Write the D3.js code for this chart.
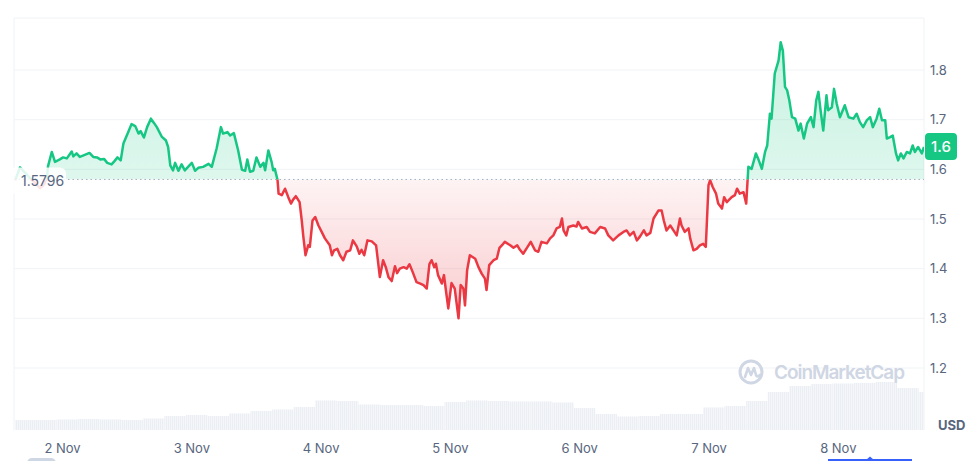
<!DOCTYPE html>
<html>
<head>
<meta charset="utf-8">
<script src="https://cdn.jsdelivr.net/npm/d3@7"></script>
<style>
  body { margin: 0; background: #fff; }
  svg { display: block; font-family: Inter, "Noto Sans", sans-serif; }
  .axis-label { fill: #58667e; font-size: 13px; }
</style>
</head>
<body>
<div id="chart"></div>
<script>
var width = 977,
    height = 461;

// price series: hours since 2 Nov 00:00, price in USD
var hours = [-8.7, -7.8, -6.9, -5.9, -5.0, -4.1, -3.3, -2.8, -2.6, -1.9, -1.3, -0.4, 0.2, 0.9, 1.8, 2.1, 2.7, 3.3, 4.0, 5.1, 5.8, 6.5, 7.1, 7.8, 8.4, 9.2, 9.7, 10.3, 10.9, 11.4, 12.3, 12.9, 13.6, 14.2, 14.6, 15.2, 15.8, 16.5, 17.1, 17.6, 18.5, 19.3, 19.7, 20.1, 20.6, 21.0, 21.6, 22.2, 22.8, 23.4, 24.1, 24.7, 25.3, 26.2, 27.2, 27.8, 28.7, 29.5, 29.9, 30.7, 31.2, 31.9, 32.7, 33.4, 34.0, 34.4, 34.9, 35.5, 36.1, 36.8, 37.4, 37.7, 38.3, 38.9, 39.2, 39.5, 40.0, 40.2, 40.8, 41.4, 42.0, 42.5, 42.9, 43.4, 44.1, 44.5, 44.8, 45.2, 45.7, 46.0, 46.5, 47.0, 47.6, 48.2, 48.8, 49.7, 50.1, 50.5, 51.1, 51.6, 52.2, 52.8, 53.5, 54.0, 54.7, 55.2, 55.6, 56.1, 56.7, 57.5, 58.3, 59.0, 59.6, 60.1, 60.6, 61.2, 61.8, 62.2, 62.7, 63.4, 64.0, 64.5, 65.1, 65.8, 66.5, 67.1, 67.7, 68.2, 68.6, 69.1, 69.4, 69.8, 70.5, 70.9, 71.3, 71.7, 72.3, 72.9, 73.6, 74.0, 74.5, 74.8, 75.2, 75.7, 76.7, 77.3, 77.9, 78.5, 78.8, 79.3, 80.1, 80.7, 81.2, 81.9, 82.2, 83.2, 83.8, 84.5, 85.0, 85.6, 86.3, 87.0, 87.8, 88.4, 89.0, 90.0, 90.6, 91.2, 91.8, 92.4, 92.8, 93.1, 93.6, 94.0, 94.9, 95.5, 95.8, 96.5, 97.4, 98.0, 98.9, 99.9, 100.8, 101.4, 102.3, 103.3, 104.2, 104.8, 105.4, 106.1, 106.7, 107.3, 108.0, 108.5, 109.2, 109.8, 110.7, 111.3, 111.7, 112.2, 112.9, 113.5, 114.1, 114.7, 115.0, 115.6, 116.3, 116.6, 117.2, 117.8, 118.4, 119.0, 119.5, 120.0, 120.3, 120.8, 121.4, 121.8, 122.5, 122.9, 123.4, 124.3, 124.9, 125.3, 125.8, 126.5, 127.0, 127.4, 128.0, 128.8, 129.2, 129.9, 130.5, 130.9, 131.4, 131.7, 132.3, 133.0, 133.4, 133.8, 134.2, 134.6, 135.0, 135.5, 136.1, 136.7, 137.1, 137.7, 138.3, 139.0, 139.5, 140.0, 140.4, 140.8, 141.3, 141.9, 142.2, 142.9, 143.3, 143.8, 144.4, 145.3, 146.0, 146.9, 147.5, 148.1, 148.7, 149.4, 150.0, 150.5, 151.2, 151.7, 152.2, 152.8, 153.1, 153.7, 154.2, 154.8, 155.2, 155.7, 156.2, 156.8, 157.4, 157.9, 158.3, 158.9, 159.6, 160.0];
var prices = [1.578, 1.604, 1.594, 1.582, 1.572, 1.562, 1.570, 1.584, 1.606, 1.635, 1.615, 1.620, 1.624, 1.622, 1.636, 1.626, 1.632, 1.625, 1.628, 1.633, 1.625, 1.624, 1.620, 1.621, 1.613, 1.610, 1.616, 1.624, 1.618, 1.652, 1.675, 1.691, 1.687, 1.672, 1.677, 1.664, 1.685, 1.702, 1.693, 1.685, 1.666, 1.658, 1.645, 1.608, 1.598, 1.613, 1.597, 1.610, 1.598, 1.605, 1.613, 1.597, 1.603, 1.605, 1.611, 1.605, 1.642, 1.685, 1.672, 1.675, 1.668, 1.673, 1.638, 1.599, 1.597, 1.620, 1.595, 1.597, 1.624, 1.605, 1.613, 1.598, 1.638, 1.615, 1.598, 1.601, 1.579, 1.551, 1.548, 1.561, 1.544, 1.531, 1.539, 1.546, 1.534, 1.497, 1.464, 1.427, 1.447, 1.444, 1.497, 1.504, 1.487, 1.474, 1.461, 1.447, 1.427, 1.437, 1.440, 1.427, 1.417, 1.434, 1.437, 1.457, 1.445, 1.430, 1.438, 1.427, 1.457, 1.455, 1.447, 1.383, 1.417, 1.403, 1.383, 1.375, 1.405, 1.391, 1.400, 1.403, 1.400, 1.409, 1.393, 1.373, 1.370, 1.367, 1.360, 1.409, 1.417, 1.403, 1.410, 1.387, 1.370, 1.387, 1.353, 1.320, 1.371, 1.360, 1.300, 1.367, 1.360, 1.326, 1.397, 1.427, 1.420, 1.403, 1.390, 1.380, 1.357, 1.407, 1.417, 1.420, 1.442, 1.450, 1.454, 1.447, 1.442, 1.447, 1.438, 1.430, 1.442, 1.454, 1.437, 1.434, 1.454, 1.451, 1.461, 1.467, 1.481, 1.484, 1.501, 1.477, 1.467, 1.484, 1.487, 1.485, 1.494, 1.481, 1.484, 1.474, 1.471, 1.484, 1.481, 1.467, 1.457, 1.467, 1.474, 1.477, 1.467, 1.474, 1.457, 1.465, 1.477, 1.467, 1.472, 1.501, 1.517, 1.517, 1.497, 1.477, 1.487, 1.477, 1.467, 1.501, 1.487, 1.474, 1.481, 1.461, 1.437, 1.440, 1.447, 1.450, 1.444, 1.568, 1.578, 1.564, 1.551, 1.531, 1.521, 1.544, 1.534, 1.544, 1.548, 1.561, 1.551, 1.554, 1.531, 1.605, 1.601, 1.632, 1.622, 1.601, 1.635, 1.648, 1.712, 1.702, 1.793, 1.819, 1.856, 1.839, 1.766, 1.759, 1.739, 1.705, 1.702, 1.678, 1.692, 1.662, 1.692, 1.705, 1.685, 1.739, 1.756, 1.719, 1.678, 1.749, 1.719, 1.725, 1.762, 1.732, 1.705, 1.729, 1.705, 1.702, 1.712, 1.695, 1.685, 1.699, 1.705, 1.685, 1.702, 1.722, 1.699, 1.699, 1.662, 1.665, 1.668, 1.632, 1.618, 1.632, 1.622, 1.635, 1.632, 1.648, 1.635, 1.645, 1.632, 1.645];

// volume, one bar per 4 hours (millions USD)
var volHours = [-9, -5, -1, 3, 7, 11, 15, 19, 23, 27, 31, 35, 39, 43, 47, 51, 55, 59, 63, 67, 71, 75, 79, 83, 87, 91, 95, 99, 103, 107, 111, 115, 119, 123, 127, 131, 135, 139, 143, 147, 151, 155, 159];
var volumes = [20, 20, 21, 22, 21, 20, 23, 28, 30, 28, 33, 38, 41, 46, 59, 58, 51, 50, 50, 48, 56, 59, 58, 57, 57, 55, 44, 32, 27, 28, 32, 32, 45, 48, 58, 76, 88, 92, 93, 94, 96, 84, 76];

var basePrice = 1.5796;
var yTicks = [1.2, 1.3, 1.4, 1.5, 1.6, 1.7, 1.8];
var dayTicks = [2, 3, 4, 5, 6, 7, 8];

var plot = {left: 14, right: 924, top: 18, bottom: 430};

var t0 = new Date(2023, 10, 2).getTime();
function toDate(h) { return new Date(t0 + h * 3600e3); }

var data = hours.map(function(h, i) { return {date: toDate(h), price: prices[i]}; });

var xScale = d3.scaleTime()
  .domain([toDate(0), toDate(160)])
  .range([62, 924]);
var yScale = d3.scaleLinear()
  .domain([1.2, 1.8])
  .range([368, 70]);
var volScale = d3.scaleLinear()
  .domain([0, 100])
  .range([plot.bottom, plot.bottom - 50]);

var svg = d3.select("#chart").append("svg")
  .attr("width", width)
  .attr("height", height);

var defs = svg.append("defs");
var yBase = yScale(basePrice);

defs.append("clipPath").attr("id", "clipUp")
  .append("rect").attr("x", plot.left).attr("y", 0)
  .attr("width", plot.right - plot.left).attr("height", yBase);
defs.append("clipPath").attr("id", "clipDown")
  .append("rect").attr("x", plot.left).attr("y", yBase)
  .attr("width", plot.right - plot.left).attr("height", plot.bottom - yBase);

var gGreen = defs.append("linearGradient").attr("id", "gradUp")
  .attr("gradientUnits", "userSpaceOnUse")
  .attr("x1", 0).attr("x2", 0).attr("y1", yScale(1.86)).attr("y2", yBase);
gGreen.append("stop").attr("offset", 0).attr("stop-color", "#16c784").attr("stop-opacity", 0.24);
gGreen.append("stop").attr("offset", 1).attr("stop-color", "#16c784").attr("stop-opacity", 0.14);

var gRed = defs.append("linearGradient").attr("id", "gradDown")
  .attr("gradientUnits", "userSpaceOnUse")
  .attr("x1", 0).attr("x2", 0).attr("y1", yBase).attr("y2", yScale(1.3));
gRed.append("stop").attr("offset", 0).attr("stop-color", "#ea3943").attr("stop-opacity", 0.06);
gRed.append("stop").attr("offset", 1).attr("stop-color", "#ea3943").attr("stop-opacity", 0.26);

var stripes = defs.append("pattern").attr("id", "volStripes")
  .attr("patternUnits", "userSpaceOnUse").attr("width", 2).attr("height", 4);
stripes.append("rect").attr("width", 2).attr("height", 4).attr("fill", "#f4f6f9");
stripes.append("rect").attr("width", 1).attr("height", 4).attr("fill", "#ebeef3");

//frame
svg.append("path")
  .attr("d", "M" + plot.left + "," + plot.bottom + "V" + plot.top + "H" + plot.right + "V" + plot.bottom)
  .attr("fill", "none")
  .attr("stroke", "#eff2f5");

//grid
svg.append("g").selectAll("line")
  .data(yTicks)
  .enter().append("line")
    .attr("x1", plot.left).attr("x2", plot.right)
    .attr("y1", function(d) { return yScale(d); })
    .attr("y2", function(d) { return yScale(d); })
    .attr("stroke", "#f1f3f6");

//volume bars
svg.append("g").selectAll("rect")
  .data(volumes)
  .enter().append("rect")
    .attr("x", function(d, i) { return Math.max(plot.left + 1, xScale(toDate(volHours[i]))); })
    .attr("width", function(d, i) {
      var x0 = Math.max(plot.left + 1, xScale(toDate(volHours[i])));
      var x1 = Math.min(plot.right, xScale(toDate(volHours[i] + 4)));
      return x1 - x0;
    })
    .attr("y", function(d) { return volScale(d); })
    .attr("height", function(d) { return plot.bottom - volScale(d); })
    .attr("fill", "url(#volStripes)");

//watermark
var wm = svg.append("g").attr("transform", "translate(751,372)");
wm.append("circle").attr("r", 11).attr("fill", "none").attr("stroke", "#cfd6e4").attr("stroke-width", 3);
wm.append("path").attr("d", "M-6,5 L-3,-4 L0,3 L3,-4 L5,3 Q6,6 9,3")
  .attr("fill", "none").attr("stroke", "#cfd6e4").attr("stroke-width", 2.6)
  .attr("stroke-linejoin", "round").attr("stroke-linecap", "round");
svg.append("text")
  .attr("x", 774).attr("y", 379)
  .attr("fill", "#cfd6e4")
  .attr("textLength", 131)
  .style("font-size", "19px").style("font-weight", 600)
  .text("CoinMarketCap");

//price areas and lines
var area = d3.area()
  .x(function(d) { return xScale(d.date); })
  .y0(yBase)
  .y1(function(d) { return yScale(d.price); });
var line = d3.line()
  .x(function(d) { return xScale(d.date); })
  .y(function(d) { return yScale(d.price); });

svg.append("path").datum(data).attr("d", area)
  .attr("clip-path", "url(#clipUp)").attr("fill", "url(#gradUp)");
svg.append("path").datum(data).attr("d", area)
  .attr("clip-path", "url(#clipDown)").attr("fill", "url(#gradDown)");

//baseline
svg.append("line")
  .attr("x1", plot.left).attr("x2", plot.right)
  .attr("y1", yBase).attr("y2", yBase)
  .attr("stroke", "#a6b0c3").attr("stroke-width", 1)
  .attr("stroke-dasharray", "1.5,3");

svg.append("path").datum(data).attr("d", line)
  .attr("clip-path", "url(#clipUp)")
  .attr("fill", "none").attr("stroke", "#16c784").attr("stroke-width", 2.5)
  .attr("stroke-linejoin", "round");
svg.append("path").datum(data).attr("d", line)
  .attr("clip-path", "url(#clipDown)")
  .attr("fill", "none").attr("stroke", "#ea3943").attr("stroke-width", 2.5)
  .attr("stroke-linejoin", "round");

//base price label
svg.append("rect")
  .attr("x", 8).attr("y", yBase - 12).attr("width", 58).attr("height", 26).attr("rx", 6)
  .attr("fill", "#fff").attr("fill-opacity", 0.86);
svg.append("text")
  .attr("class", "axis-label")
  .attr("x", 21).attr("y", yBase + 2)
  .attr("dy", "0.35em")
  .style("font-size", "14px")
  .text(d3.format(".4f")(basePrice));

//y axis (right)
var yAxis = svg.append("g")
  .attr("transform", "translate(" + (plot.right + 3) + ",0)")
  .call(d3.axisRight(yScale).tickValues(yTicks).tickSize(0).tickPadding(3).tickFormat(d3.format(".1f")));
yAxis.select(".domain").remove();
yAxis.selectAll("text").attr("class", "axis-label").attr("fill", null)
  .style("font-family", "Inter, 'Noto Sans', sans-serif");

//current price tag
var last = data[data.length - 1];
var yLast = yScale(last.price);
svg.append("rect")
  .attr("x", 925).attr("y", yLast - 14).attr("width", 32).attr("height", 27).attr("rx", 4)
  .attr("fill", "#16c784");
svg.append("text")
  .attr("x", 941).attr("y", yLast).attr("dy", "0.35em")
  .attr("text-anchor", "middle")
  .attr("fill", "#fff")
  .style("font-size", "15px").style("font-weight", 500)
  .text(d3.format(".1f")(last.price));

svg.append("text")
  .attr("x", 938).attr("y", 430)
  .attr("fill", "#58667e")
  .style("font-size", "13px").style("font-weight", 700)
  .text("USD");

//x axis
var xAxis = svg.append("g")
  .attr("transform", "translate(0," + 444 + ")")
  .call(d3.axisBottom(xScale)
    .tickValues(dayTicks.map(function(d) { return new Date(2023, 10, d); }))
    .tickSize(0).tickPadding(0)
    .tickFormat(d3.timeFormat("%-d %b")));
xAxis.select(".domain").remove();
xAxis.selectAll("text").attr("class", "axis-label").attr("fill", null)
  .style("font-family", "Inter, 'Noto Sans', sans-serif");

//range slider remnants at the bottom
svg.append("rect")
  .attr("x", 27).attr("y", 458).attr("width", 29).attr("height", 10).attr("rx", 5)
  .attr("fill", "#cfd6e4");
svg.append("line")
  .attr("x1", 828).attr("x2", 912).attr("y1", 460).attr("y2", 460)
  .attr("stroke", "#3861fb").attr("stroke-width", 2);
svg.append("path")
  .attr("d", "M866,460 L870,456.5 L874,460 Z")
  .attr("fill", "#3861fb");
</script>
</body>
</html>
